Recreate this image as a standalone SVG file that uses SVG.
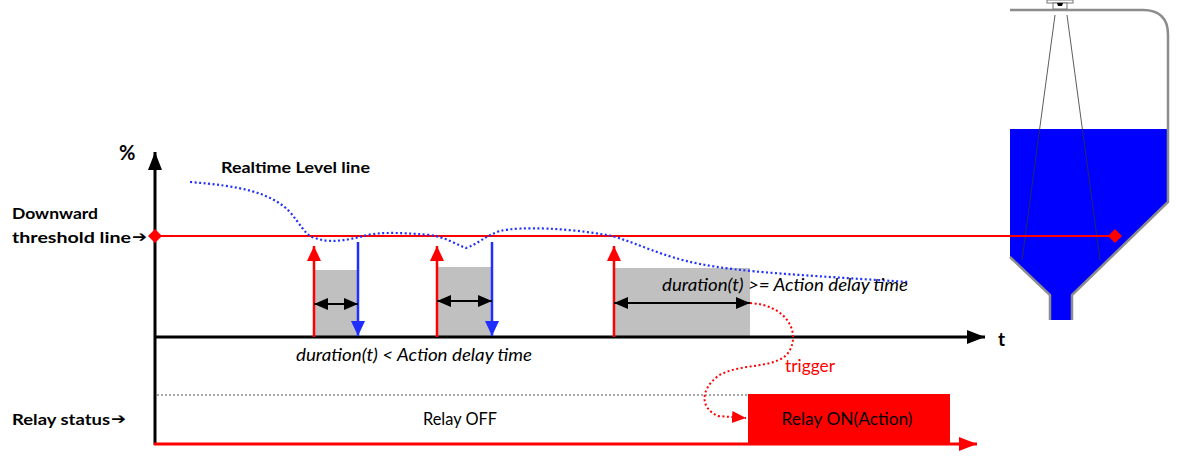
<svg xmlns="http://www.w3.org/2000/svg" width="1191" height="459" viewBox="0 0 1191 459">
  <style>
    .lbl { font-family: Lato, "Liberation Sans", sans-serif; fill: #000; }
    .b { font-weight: bold; }
    .it { font-style: italic; }
    .pointer { font-family: "DejaVu Sans", sans-serif; font-weight: bold; font-size: 15px; fill: #000; }
    .axis { stroke: #000; stroke-width: 3; fill: none; }
    .thr { stroke: #ff0000; stroke-width: 2; fill: none; }
    .up { stroke: #ff0000; stroke-width: 2.5; fill: none; }
    .down { stroke: #1f2fff; stroke-width: 2.5; fill: none; }
    .dur { stroke: #000; stroke-width: 2; fill: none; }
    .gray { fill: #c0c0c0; }
  </style>
  <defs>
    <marker id="ahBlack" markerUnits="userSpaceOnUse" markerWidth="20" markerHeight="16" refX="18" refY="8" orient="auto">
      <path d="M0,1 L18,8 L0,15 Z" fill="#000"/>
    </marker>
    <marker id="ahRed" markerUnits="userSpaceOnUse" markerWidth="20" markerHeight="16" refX="18" refY="8" orient="auto">
      <path d="M0,1 L18,8 L0,15 Z" fill="#ff0000"/>
    </marker>
    <marker id="ahRedUp" markerUnits="userSpaceOnUse" markerWidth="18" markerHeight="16" refX="15" refY="7" orient="auto">
      <path d="M0,0 L15,7 L0,14 Z" fill="#ff0000"/>
    </marker>
    <marker id="ahBlue" markerUnits="userSpaceOnUse" markerWidth="18" markerHeight="16" refX="15" refY="7" orient="auto">
      <path d="M0,0 L15,7 L0,14 Z" fill="#1f2fff"/>
    </marker>
    <marker id="ahDur" markerUnits="userSpaceOnUse" markerWidth="16" markerHeight="14" refX="14" refY="6" orient="auto-start-reverse">
      <path d="M0,0 L14,6 L0,12 Z" fill="#000"/>
    </marker>
    <marker id="ahTrig" markerUnits="userSpaceOnUse" markerWidth="16" markerHeight="14" refX="14" refY="6" orient="auto">
      <path d="M0,0 L14,6 L0,12 Z" fill="#ff0000"/>
    </marker>
  </defs>

  <!-- duration windows -->
  <g id="windows">
    <rect class="gray" x="314" y="270" width="44" height="67"/>
    <rect class="gray" x="437" y="267" width="55" height="70"/>
    <rect class="gray" x="614" y="268" width="136" height="69"/>
  </g>

  <!-- silo with radar sensor -->
  <g id="tank">
    <path d="M1010,129 L1168,129 L1168,202 L1072,295 L1072,320 L1050,320 L1050,295 L1010,257 Z" fill="#0000ff"/>
    <path d="M1010,10 L1143,10 Q1168,10 1168,35 L1168,202 L1072,295 L1072,320 M1050,320 L1050,295 L1010,257" fill="none" stroke="#8c8c8c" stroke-width="2.5"/>
    <line x1="1055" y1="15" x2="1022" y2="260" stroke="#333" stroke-width="0.8"/>
    <line x1="1067" y1="15" x2="1100" y2="260" stroke="#333" stroke-width="0.8"/>
    <rect x="1047" y="0" width="26" height="3" fill="#fff" stroke="#777" stroke-width="1"/>
    <rect x="1053" y="3" width="14" height="6" fill="#fff" stroke="#777" stroke-width="1"/>
    <path d="M1057,3 L1063,3 L1062,6 L1058,6 Z" fill="#000"/>
  </g>

  <g id="connectors">
    <!-- axes -->
    <line class="axis" x1="155" y1="445" x2="155" y2="152" marker-end="url(#ahBlack)"/>
    <line class="axis" x1="154" y1="337" x2="985" y2="337" marker-end="url(#ahBlack)"/>
    <line x1="154" y1="444" x2="977" y2="444" stroke="#ff0000" stroke-width="3" marker-end="url(#ahRed)"/>
    <line x1="157" y1="395" x2="748" y2="395" stroke="#8c8c8c" stroke-width="1.5" stroke-dasharray="2,2"/>

    <!-- threshold line -->
    <line class="thr" x1="155" y1="236" x2="1115" y2="236"/>
    <path d="M155,229 L162,236 L155,243 L148,236 Z" fill="#ff0000"/>
    <path d="M1115,229 L1122,236 L1115,243 L1108,236 Z" fill="#ff0000"/>

    <!-- realtime level curve -->
    <path d="M190,182 C240,186 270,192 290,212 C300,224 305,234 312,237 C330,244 345,240 360,237 C375,232 395,232 430,235 C445,237 455,244 466,248 C478,244 485,236 500,231 C520,226 570,228 612,236 C640,244 660,256 700,264 C740,272 800,275 908,282" fill="none" stroke="#2030ff" stroke-width="2.2" stroke-dasharray="2,2.5"/>

    <!-- crossing arrows -->
    <line class="up" x1="314" y1="337" x2="314" y2="246" marker-end="url(#ahRedUp)"/>
    <line class="up" x1="437" y1="337" x2="437" y2="246" marker-end="url(#ahRedUp)"/>
    <line class="up" x1="614" y1="337" x2="614" y2="246" marker-end="url(#ahRedUp)"/>
    <line class="down" x1="358" y1="242" x2="358" y2="336" marker-end="url(#ahBlue)"/>
    <line class="down" x1="492" y1="242" x2="492" y2="336" marker-end="url(#ahBlue)"/>

    <!-- duration arrows -->
    <line class="dur" x1="314" y1="304" x2="358" y2="304" marker-start="url(#ahDur)" marker-end="url(#ahDur)"/>
    <line class="dur" x1="437" y1="301" x2="492" y2="301" marker-start="url(#ahDur)" marker-end="url(#ahDur)"/>
    <line class="dur" x1="614" y1="303" x2="750" y2="303" marker-start="url(#ahDur)" marker-end="url(#ahDur)"/>

    <!-- trigger path -->
    <path d="M750,303 C785,305 800,330 790,350 C780,370 740,362 718,376 C700,390 700,408 718,416 L746,418" fill="none" stroke="#ff0000" stroke-width="2" stroke-dasharray="2,2.5" marker-end="url(#ahTrig)"/>
  </g>

  <!-- relay ON block -->
  <g id="relay-on">
    <rect x="748" y="394" width="202" height="50" fill="#ff0000"/>
    <text class="lbl" x="847" y="425" font-size="17" text-anchor="middle" textLength="131" lengthAdjust="spacingAndGlyphs">Relay ON(Action)</text>
  </g>

  <g id="labels">
    <text class="lbl b" x="119" y="160" font-size="20">%</text>
    <text class="lbl b" x="221" y="173" font-size="16" textLength="149" lengthAdjust="spacingAndGlyphs">Realtime Level line</text>
    <text class="lbl b" x="12" y="219" font-size="16" textLength="86" lengthAdjust="spacingAndGlyphs">Downward</text>
    <text class="lbl b" x="12" y="243" font-size="16" textLength="119" lengthAdjust="spacingAndGlyphs">threshold line</text>
    <text class="pointer" x="132" y="242" textLength="15" lengthAdjust="spacingAndGlyphs">➔</text>
    <text class="lbl b" x="12" y="425" font-size="16" textLength="98" lengthAdjust="spacingAndGlyphs">Relay status</text>
    <text class="pointer" x="111" y="424" textLength="15" lengthAdjust="spacingAndGlyphs">➔</text>
    <text class="lbl b" x="998" y="346" font-size="19">t</text>
    <text class="lbl it" x="296" y="361" font-size="17" textLength="236" lengthAdjust="spacingAndGlyphs">duration(t) &lt; Action delay time</text>
    <text class="lbl it" x="662" y="291" font-size="17" textLength="246" lengthAdjust="spacingAndGlyphs">duration(t) &gt;= Action delay time</text>
    <text class="lbl" x="423" y="425" font-size="17" textLength="74" lengthAdjust="spacingAndGlyphs">Relay OFF</text>
    <text class="lbl" x="785" y="372" font-size="17" style="fill:#ff0000" textLength="50" lengthAdjust="spacingAndGlyphs">trigger</text>
  </g>
</svg>
